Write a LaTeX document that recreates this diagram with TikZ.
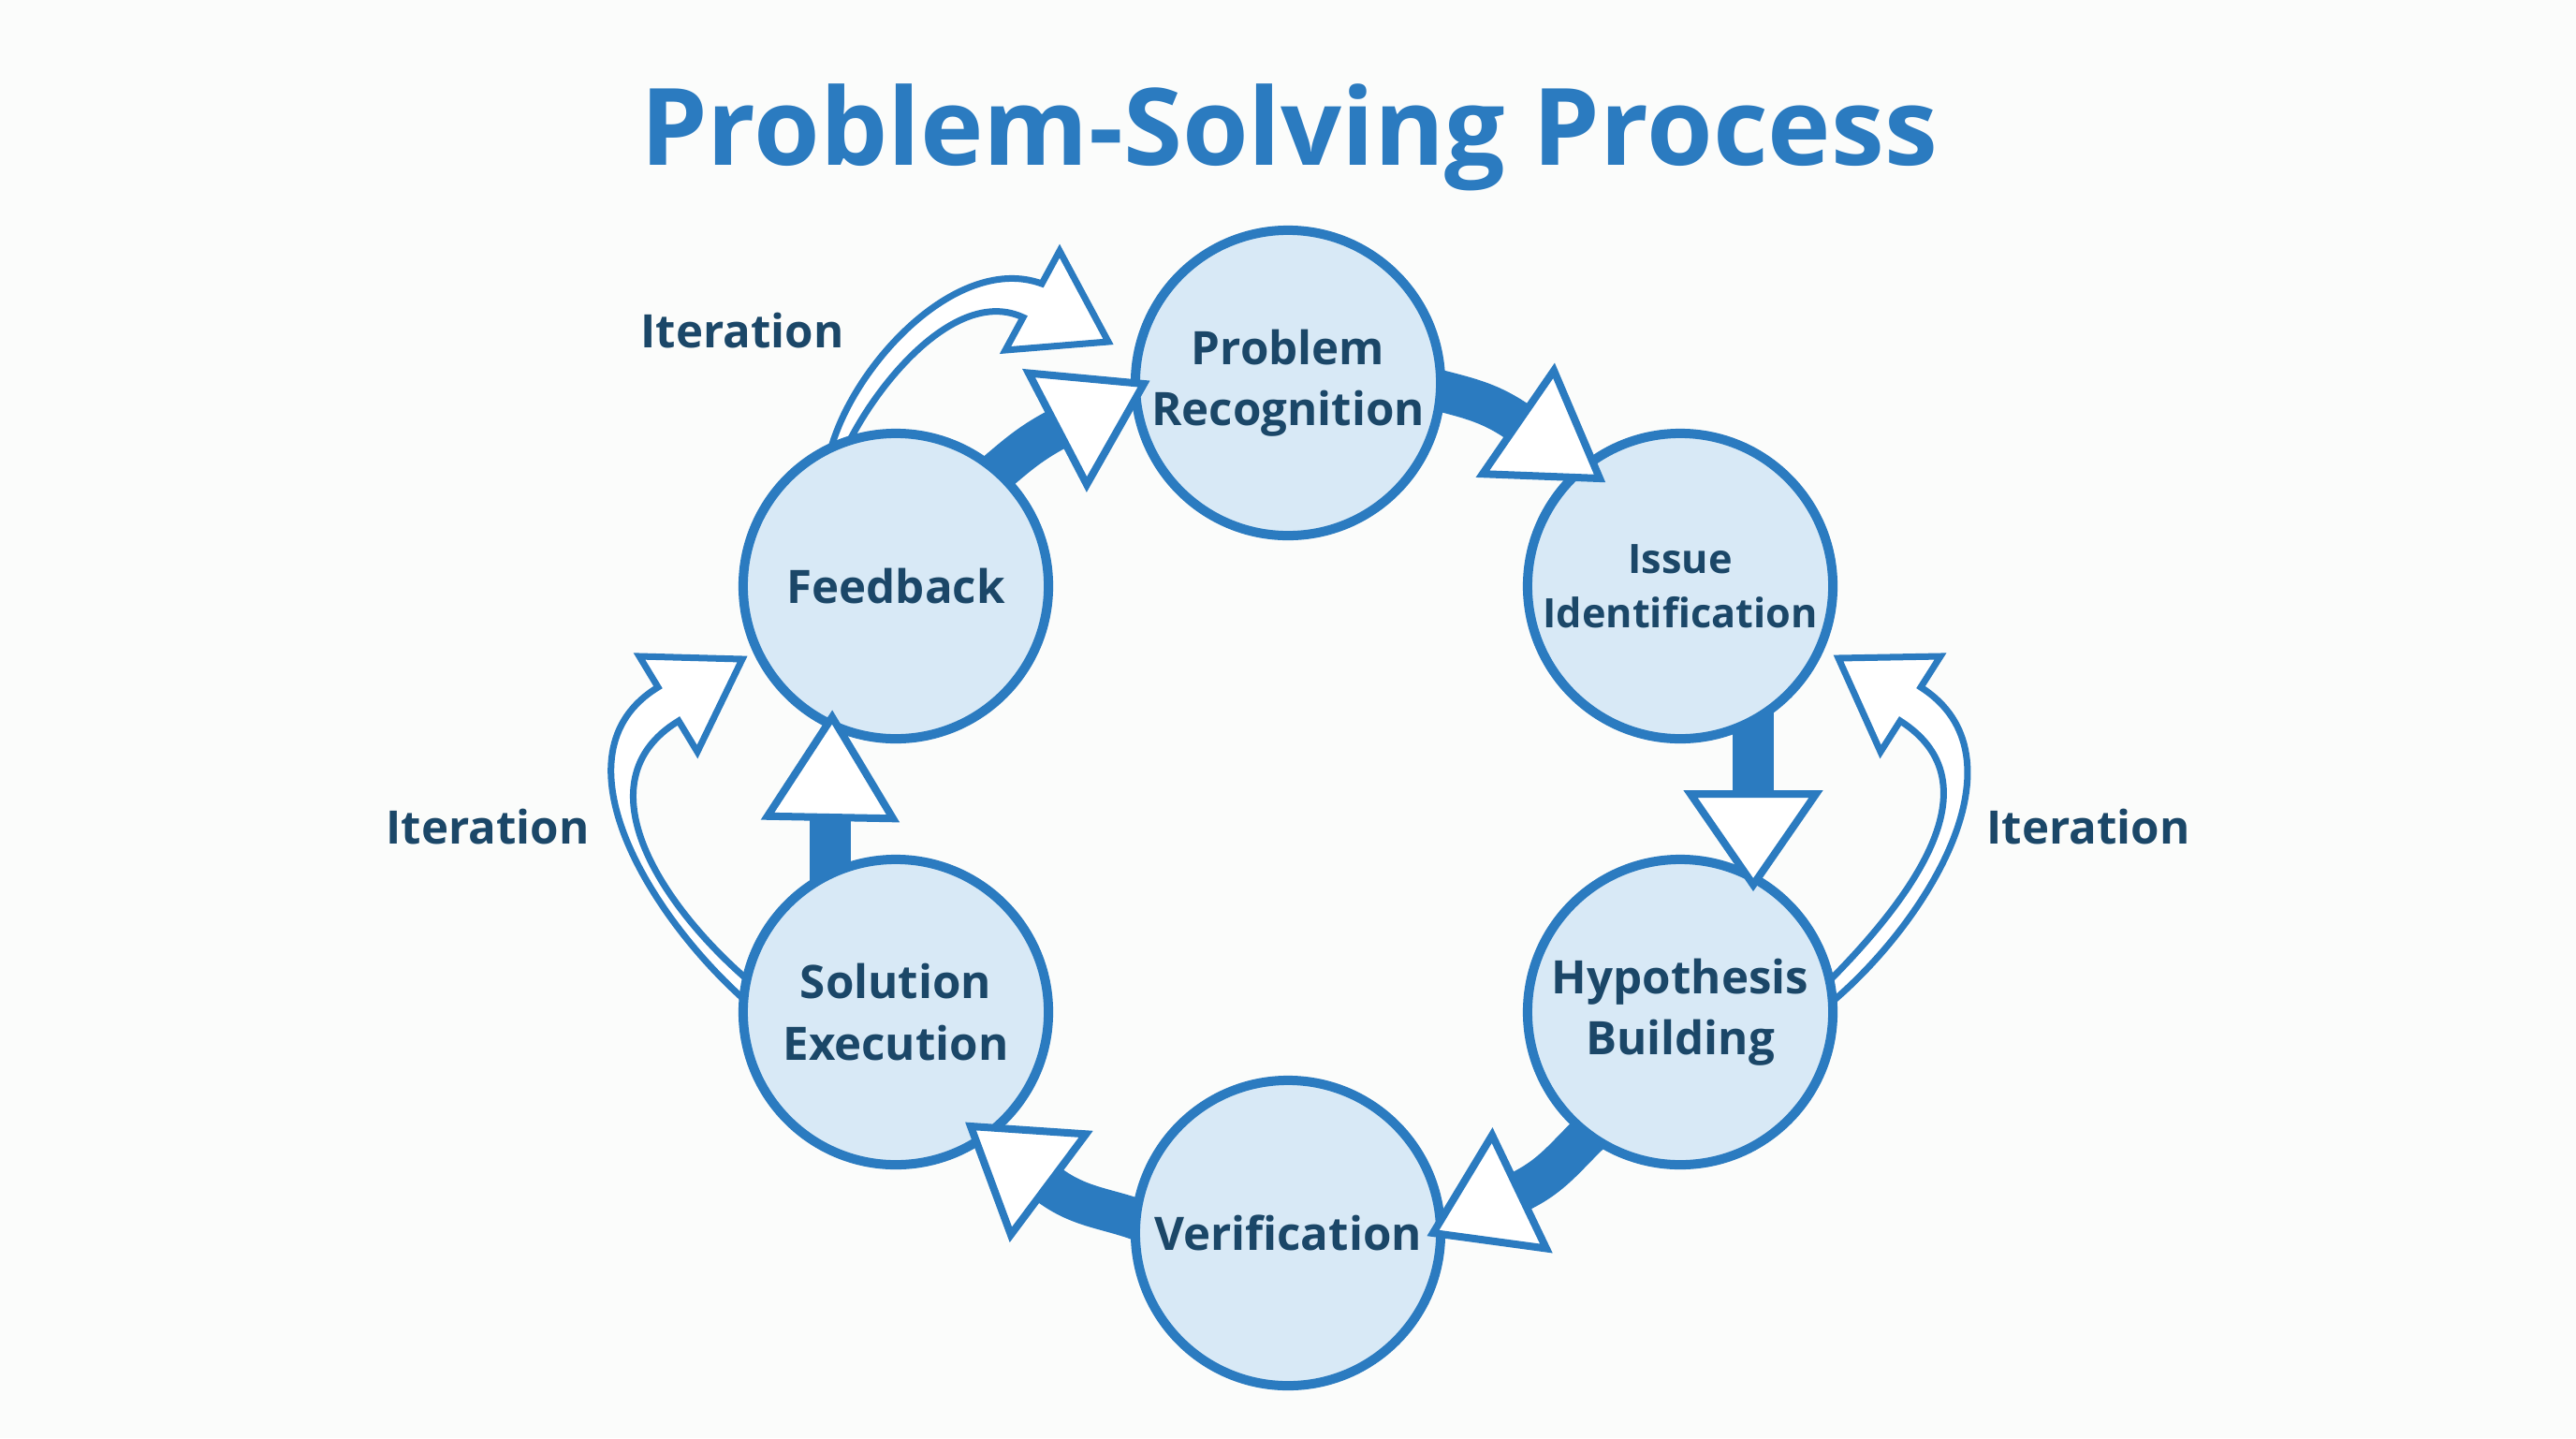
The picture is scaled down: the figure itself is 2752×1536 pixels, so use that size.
\documentclass[tikz,border=0pt]{standalone}
\usepackage{fontspec}
\setmainfont{Open Sans}
\usetikzlibrary{calc}
\pgfdeclarelayer{bg}
\pgfsetlayers{bg,main}
\definecolor{mainblue}{RGB}{43,123,192}
\definecolor{circfill}{RGB}{216,233,246}
\definecolor{navy}{RGB}{27,71,104}
\definecolor{bgc}{RGB}{251,252,251}
\begin{document}
\begin{tikzpicture}[x=0.01cm,y=0.01cm,
  stage/.style={circle, draw=mainblue, line width=0.1cm, fill=circfill, minimum size=3.26cm, inner sep=0pt, align=center, text=navy, font=\fontsize{14}{18.5}\selectfont\bfseries},
  smalltext/.style={font=\fontsize{12.3}{16.5}\selectfont\bfseries},
  shaft/.style={draw=mainblue, line width=0.44cm},
  headc/.style={fill=white, draw=mainblue, line width=0.08cm, line join=miter},
  iter/.style={fill=white, draw=mainblue, line width=0.07cm, line join=miter},
  lbl/.style={text=navy, font=\fontsize{14}{17}\selectfont\bfseries},
  titlestyle/.style={anchor=base, text=mainblue, font=\fontsize{32.5}{36}\selectfont\bfseries}]
\begin{pgfonlayer}{bg}
\fill[bgc] (0,0) rectangle (2752,-1536);
\end{pgfonlayer}
\useasboundingbox (0,0) rectangle (2752,-1536);

\node[titlestyle] (title) at (1377,-176) {Problem-Solving Process};

\node[stage] (pr) at (1376,-409) {Problem\\Recognition};
\node[stage, smalltext] (ii) at (1795,-626) {Issue\\Identification};
\node[stage] (hb) at (1795,-1081) {Hypothesis\\Building};
\node[stage] (v) at (1376,-1317) {Verification};
\node[stage] (se) at (957,-1081) {Solution\\Execution};
\node[stage] (fb) at (957,-626) {Feedback};

\node[lbl] (it1) at (793,-353) {Iteration};
\node[lbl] (it2) at (521,-883) {Iteration};
\node[lbl] (it3) at (2231,-883) {Iteration};

% arrow head coordinates
\coordinate (b1) at (1622,-451); \coordinate (t1) at (1709,-511);
\coordinate (b2) at (1873,-848); \coordinate (t2) at (1873,-945);
\coordinate (b3) at (1623,-1273); \coordinate (t3) at (1531,-1317);
\coordinate (b4) at (1120,-1265); \coordinate (t4) at (1037,-1203);
\coordinate (b5) at (887,-873); \coordinate (t5) at (889,-766);
\coordinate (b6) at (1130,-458); \coordinate (t6) at (1222,-410);

% iteration arrow coordinates
\coordinate (i1so) at (888,-478); \coordinate (i1si) at (905,-476);
\coordinate (i1jo) at (1113,-303); \coordinate (i1bo) at (1132,-268);
\coordinate (i1t) at (1184,-365); \coordinate (i1bi) at (1074,-374);
\coordinate (i1ji) at (1093,-339);

\coordinate (i2so) at (1955,-1072); \coordinate (i2si) at (1950,-1052);
\coordinate (i2jo) at (2052,-734); \coordinate (i2bo) at (2073,-701);
\coordinate (i2t) at (1964,-703); \coordinate (i2bi) at (2009,-803);
\coordinate (i2ji) at (2030,-770);

\coordinate (i3so) at (800,-1072); \coordinate (i3si) at (805,-1052);
\coordinate (i3jo) at (703,-734); \coordinate (i3bo) at (683,-701);
\coordinate (i3t) at (793,-704); \coordinate (i3bi) at (745,-803);
\coordinate (i3ji) at (725,-770);

\begin{pgfonlayer}{bg}
\draw[shaft] ($(pr.center)!0.9!(pr.358)$) to[out=-15,in=145.4] (b1);
\draw[shaft] (b2 |- ii.center) -- (b2);
\draw[shaft] ($(hb.center)!0.9!(hb.234)$) to[out=222,in=25.6] (b3);
\draw[shaft] ($(v.center)!0.9!(v.176)$) to[out=158,in=-36.8] (b4);
\draw[shaft] (b5 |- se.center) -- (b5);
\draw[shaft] ($(fb.center)!0.9!(fb.49)$) to[out=40,in=207.6] (b6);

\draw[iter] (i1so) to[out=74,in=160,looseness=0.85] (i1jo) -- (i1bo) -- (i1t) -- (i1bi) -- (i1ji) to[out=155,in=64,looseness=0.85] (i1si);
\draw[iter] (i2so) to[out=40,in=-32.5] (i2jo) -- (i2bo) -- (i2t) -- (i2bi) -- (i2ji) to[out=-32.5,in=45,looseness=1.1] (i2si);
\draw[iter] (i3so) to[out=139,in=211.3] (i3jo) -- (i3bo) -- (i3t) -- (i3bi) -- (i3ji) to[out=211.3,in=140,looseness=1.1] (i3si);
\end{pgfonlayer}

\foreach \i in {1,...,6}
  \draw[headc] (t\i) -- ($(b\i)!0.67cm!90:(t\i)$) -- ($(b\i)!0.67cm!-90:(t\i)$) -- cycle;
\end{tikzpicture}
\end{document}
